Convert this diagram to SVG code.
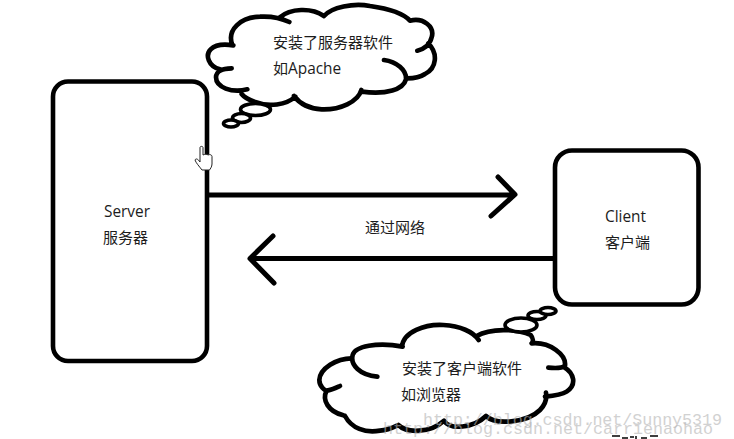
<svg xmlns="http://www.w3.org/2000/svg" width="734" height="439" viewBox="0 0 734 439">
<style>
.box{fill:#fff;stroke:#000;stroke-width:4.6}
.ln{fill:none;stroke:#000;stroke-width:5;stroke-linecap:round;stroke-linejoin:round}
.cl{fill:none;stroke:#000;stroke-width:14;stroke-linecap:round;stroke-linejoin:round}
.bub{fill:#fff;stroke:#000;stroke-width:3.6}
.t{font-family:"Open Sans","Noto Sans CJK SC",sans-serif;font-size:15.400px;fill:#1c1c1c}
.t2{font-family:"Noto Sans CJK SC","Noto Sans",sans-serif;font-size:15px;fill:#1c1c1c}
.wm{font-family:"Liberation Mono",monospace;font-size:16.7px;fill:#b4b4b4;opacity:.6}
</style>
<rect width="734" height="439" fill="#fff"/>
<g id="connectors">
<path class="ln" d="M207 195H513M498 177L515 194.500L491 216"/>
<path class="ln" d="M553 258.500H252M273 236L250 258.500L274 283"/>
</g>
<g id="server">
<rect class="box" x="53" y="81.500" width="154" height="279.500" rx="15"/>
<text class="t" x="104" y="217">Server</text>
<text class="t2" x="103" y="243">服务器</text>
</g>
<g id="client">
<rect class="box" x="555" y="150.500" width="143.500" height="154" rx="17"/>
<text class="t" x="605" y="222">Client</text>
<text class="t2" x="605" y="248">客户端</text>
</g>
<g id="label">
<text class="t2" x="365" y="233">通过网络</text>
</g>
<g id="cloud-server">
<g transform="translate(190 0) scale(.3333)">
<path class="cl" d="M172 268C125 280 78 262 78 232C78 215 95 205 125 205M90 208C55 200 45 165 62 148C78 132 105 132 130 136M126 132C112 90 150 52 210 50C245 48 275 55 298 66M270 52C300 25 365 22 402 48C425 22 490 8 540 18C590 25 640 40 660 62C700 52 735 80 725 112C720 135 700 148 682 152M715 130C745 160 740 205 705 222C690 232 670 235 652 235M582 180C620 185 650 210 648 238C640 268 590 285 516 275M514 270C505 305 450 330 395 328C360 326 330 312 312 288M316 290C290 315 235 322 195 306C178 300 165 295 155 282"/>
</g>
<ellipse class="bub" cx="255.500" cy="109.500" rx="15" ry="6"/>
<ellipse class="bub" cx="241.500" cy="118" rx="9" ry="4.500"/>
<ellipse class="bub" cx="231" cy="123.500" rx="7.500" ry="3.500"/>
<text class="t2" x="273" y="48">安装了服务器软件</text>
<text class="t" x="273" y="74"><tspan class="t2">如</tspan>Apache</text>
</g>
<g id="cloud-client">
<g transform="translate(300 300) scale(.3333)">
<path class="cl" d="M232 230C180 225 150 195 158 165C165 140 230 125 308 140M306 140C310 95 375 72 430 75C480 78 520 95 536 120M530 108C570 85 650 85 692 105C700 115 700 125 695 130C750 125 800 165 795 198C785 205 765 205 745 203M790 200C825 220 830 255 800 275C785 285 760 288 735 290"/>
<path class="cl" d="M155 175C110 175 60 205 58 240C58 260 75 272 80 272C95 270 105 265 120 258M80 272C65 300 85 335 130 346"/>
</g>
<g transform="translate(310 380) scale(.3333)">
<path class="cl" d="M105 108C125 145 165 160 210 152C235 150 250 142 265 135C290 160 360 160 402 122C420 150 490 145 528 108C555 135 650 130 690 90C705 75 712 60 708 38"/>
</g>
<ellipse class="bub" cx="521" cy="325" rx="16" ry="7"/>
<ellipse class="bub" cx="537" cy="315.500" rx="9" ry="4"/>
<ellipse class="bub" cx="548" cy="311" rx="8" ry="3.500"/>
<text class="t2" x="402" y="374">安装了客户端软件</text>
<text class="t2" x="401" y="400">如浏览器</text>
</g>
<g id="cursor">
<path d="M200 147.500C200 146 203 146 203 147.500V155C205 154 207 154 208 155C210 154 212 155 212 156.500V164C212 167 210 169 209.500 170H202C199 166 196 163 195 160C196 158 198 159 200 162Z" fill="#fff" stroke="#222" stroke-width="1"/>
</g>
<g id="watermark">
<text class="wm" x="423" y="425" textLength="299">http://blog.csdn.net/Sunny5319</text>
<text class="wm" x="383" y="434" textLength="330">http://blog.csdn.net/carrienaohao</text>
</g>
<path d="M612 436h8M622 438h6M630 437h4M636 436v3M641 438h6M650 436h8" stroke="#000" stroke-width="1.500" fill="none"/>
</svg>
